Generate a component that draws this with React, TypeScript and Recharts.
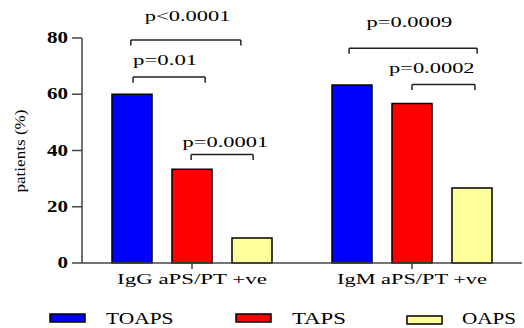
import { Bar, BarChart, Legend, ReferenceDot, ReferenceLine, XAxis, YAxis } from "recharts";

const categories = ["IgG aPS/PT +ve", "IgM aPS/PT +ve"];
const toaps = [60, 63.3];
const taps = [33.3, 56.7];
const oaps = [8.9, 26.7];
const yTicks = [0, 20, 40, 60, 80];

// significance brackets: x as fraction of the x axis (0..1), y in %
const pLabels = ["p<0.0001", "p=0.01", "p=0.0001", "p=0.0009", "p=0.0002"];
const bracketFrom = [0.111, 0.116, 0.248, 0.607, 0.75];
const bracketTo = [0.361, 0.28, 0.389, 0.898, 0.893];
const bracketAt = [79.3, 66.1, 38.6, 76.4, 63.5];
const labelAtX = [0.24, 0.189, 0.326, 0.744, 0.795];
const labelAtY = [85.9, 70.4, 41.1, 83.9, 67.6];

const data = categories.map((name, i) => ({ name, toaps: toaps[i], taps: taps[i], oaps: oaps[i] }));

const FONT = "'Liberation Serif', 'Times New Roman', serif";
const AXIS = "#444";
const DROP = 2;

function YTick(props: any) {
  const { x, y, payload } = props;
  const s = String(payload.value);
  return (
    <text x={x} y={y + 5} textAnchor="end" fontFamily={FONT} fontWeight="bold" fontSize={16}
      fill="#000" textLength={s.length * 10.5} lengthAdjust="spacingAndGlyphs">
      {s}
    </text>
  );
}

function XTick(props: any) {
  const { x, y, payload } = props;
  const s = String(payload.value);
  return (
    <text x={x} y={y + 13} textAnchor="middle" fontFamily={FONT} fontSize={15} fill="#000"
      textLength={s.length * 10.7} lengthAdjust="spacingAndGlyphs">
      {s}
    </text>
  );
}

const legendItems = [
  { label: "TOAPS", fill: "#0000FF", box: 50, text: 106, dy: 0 },
  { label: "TAPS", fill: "#FF0000", box: 236, text: 292, dy: 0 },
  { label: "OAPS", fill: "#FFFF99", box: 407, text: 462, dy: 2 },
];

function LegendBox() {
  return (
    <svg width={524} height={30} style={{ display: "block" }}>
      {legendItems.map((it) => (
        <g key={it.label}>
          <rect x={it.box} y={16 + it.dy} width={35} height={8} fill={it.fill} stroke="#000" strokeWidth={1.5} />
          <text x={it.text} y={26} fontFamily={FONT} fontSize={17} fill="#000"
            textLength={it.label.length * 13.5} lengthAdjust="spacingAndGlyphs">
            {it.label}
          </text>
        </g>
      ))}
    </svg>
  );
}

function PLabel(text: string) {
  return (props: any) => (
    <text x={props.cx} y={props.cy} textAnchor="middle" fontFamily={FONT} fontSize={15} fill="#000"
      textLength={text.length * 10.7} lengthAdjust="spacingAndGlyphs">
      {text}
    </text>
  );
}

export default function App() {
  return (
    <div style={{ position: "fixed", top: 0, left: 0, background: "#fff", width: 524, height: 328, overflow: "hidden" }}>
      <BarChart width={524} height={328} data={data} margin={{ top: 38, right: 2, left: 0, bottom: 0 }}
        barGap={20} barCategoryGap={30}>
        <XAxis xAxisId="cat" dataKey="name" height={35} tickSize={6} tickMargin={2}
          stroke={AXIS} strokeWidth={1.5} tick={<XTick />} />
        <XAxis xAxisId="num" type="number" domain={[0, 1]} allowDataOverflow hide />
        <YAxis width={82} domain={[0, 80]} ticks={yTicks} tickSize={10} tickMargin={4}
          stroke={AXIS} strokeWidth={1.5} tick={<YTick />}
          label={{
            content: () => (
              <text transform="translate(25,151) rotate(-90)" textAnchor="middle" fontFamily={FONT}
                fontSize={15} fill="#000" textLength={83} lengthAdjust="spacingAndGlyphs">
                patients (%)
              </text>
            ),
          }} />
        <Legend verticalAlign="bottom" height={30} content={<LegendBox />}
          wrapperStyle={{ left: 0, top: 298, width: 524, height: 30 }} />
        <Bar xAxisId="cat" dataKey="toaps" name="TOAPS" fill="#0000FF" stroke="#000" strokeWidth={1.5} barSize={40} isAnimationActive={false} />
        <Bar xAxisId="cat" dataKey="taps" name="TAPS" fill="#FF0000" stroke="#000" strokeWidth={1.5} barSize={40} isAnimationActive={false} />
        <Bar xAxisId="cat" dataKey="oaps" name="OAPS" fill="#FFFF99" stroke="#000" strokeWidth={1.5} barSize={40} isAnimationActive={false} />
        {pLabels.map((p, i) => [
          <ReferenceLine key={`h${i}`} xAxisId="num" ifOverflow="visible" stroke="#222" strokeWidth={1.5}
            segment={[{ x: bracketFrom[i], y: bracketAt[i] }, { x: bracketTo[i], y: bracketAt[i] }]} />,
          <ReferenceLine key={`l${i}`} xAxisId="num" ifOverflow="visible" stroke="#222" strokeWidth={1.5}
            segment={[{ x: bracketFrom[i], y: bracketAt[i] }, { x: bracketFrom[i], y: bracketAt[i] - DROP }]} />,
          <ReferenceLine key={`r${i}`} xAxisId="num" ifOverflow="visible" stroke="#222" strokeWidth={1.5}
            segment={[{ x: bracketTo[i], y: bracketAt[i] }, { x: bracketTo[i], y: bracketAt[i] - DROP }]} />,
          <ReferenceDot key={`t${i}`} xAxisId="num" x={labelAtX[i]} y={labelAtY[i]} r={0}
            ifOverflow="visible" shape={PLabel(p)} />,
        ])}
      </BarChart>
    </div>
  );
}
